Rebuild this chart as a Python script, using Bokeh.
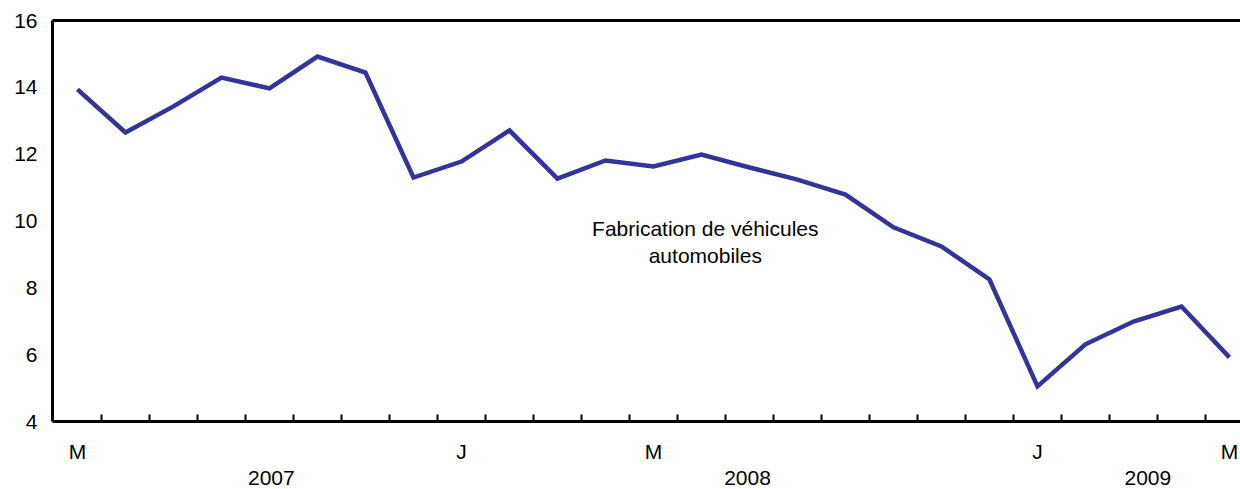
from bokeh.plotting import figure
from bokeh.models import (Range1d, FixedTicker, LinearAxis, Label, ColumnDataSource)
from bokeh.embed import file_html
from bokeh.resources import INLINE

# Data: monthly values, May 2007 .. May 2009
months = ["M", "J", "J", "A", "S", "O", "N", "D",
          "J", "F", "M", "A", "M", "J", "J", "A", "S", "O", "N", "D",
          "J", "F", "M", "A", "M"]
values = [13.94, 12.65, 13.43, 14.29, 13.97, 14.92, 14.44, 11.30,
          11.78, 12.71, 11.27, 11.81, 11.63, 11.99, 11.60, 11.24,
          10.79, 9.81, 9.24, 8.25, 5.05, 6.31, 6.99, 7.44, 5.92]
month_label_idx = [0, 8, 12, 20, 24]
years = ["2007", "2008", "2009"]
year_label_pos = [4.04, 13.96, 22.3]
series_label = ["Fabrication de véhicules", "automobiles"]
y_ticks = [4, 6, 8, 10, 12, 14, 16]

FONT = "Liberation Sans"
FS = "21px"

x = list(range(len(values)))
src = ColumnDataSource(dict(x=x, y=values))

p = figure(width=1240, height=489, output_backend="svg", toolbar_location=None,
           x_range=Range1d(-0.52, 24.23), y_range=Range1d(4, 16),
           min_border_left=52, min_border_right=0, min_border_top=20,
           min_border_bottom=68, x_axis_type=None)
p.outline_line_color = None
p.grid.visible = False
p.background_fill_color = "white"
p.border_fill_color = "white"

p.line("x", "y", source=src, line_color="#333399", line_width=4.5,
       line_join="miter")

# month axis (labels at month centres, minor ticks at month boundaries)
ax_m = LinearAxis(ticker=FixedTicker(ticks=month_label_idx,
                                     minor_ticks=[i + 0.5 for i in range(len(values) - 1)]))
ax_m.major_label_overrides = {i: months[i] for i in month_label_idx}
ax_m.major_tick_in = 0
ax_m.major_tick_out = 0
ax_m.minor_tick_in = 7
ax_m.minor_tick_out = 0
ax_m.minor_tick_line_color = "black"
ax_m.minor_tick_line_width = 2
ax_m.axis_line_color = "black"
ax_m.axis_line_width = 3
ax_m.major_label_standoff = 18
ax_m.major_label_text_font = FONT
ax_m.major_label_text_font_size = FS
ax_m.major_label_text_color = "black"
p.add_layout(ax_m, "below")

# year axis
ax_y = LinearAxis(ticker=FixedTicker(ticks=year_label_pos))
ax_y.major_label_overrides = {year_label_pos[i]: years[i] for i in range(len(years))}
ax_y.major_tick_in = 0
ax_y.major_tick_out = 0
ax_y.minor_tick_in = 0
ax_y.minor_tick_out = 0
ax_y.axis_line_color = None
ax_y.major_label_standoff = 5
ax_y.major_label_text_font = FONT
ax_y.major_label_text_font_size = FS
ax_y.major_label_text_color = "black"
p.add_layout(ax_y, "below")

# left axis
p.yaxis.ticker = FixedTicker(ticks=y_ticks)
p.yaxis.major_tick_in = 0
p.yaxis.major_tick_out = 0
p.yaxis.minor_tick_in = 0
p.yaxis.minor_tick_out = 0
p.yaxis.axis_line_color = "black"
p.yaxis.axis_line_width = 3
p.yaxis.major_label_standoff = 15
p.yaxis.major_label_text_font = FONT
p.yaxis.major_label_text_font_size = FS
p.yaxis.major_label_text_color = "black"

# top border line
ax_top = LinearAxis(ticker=FixedTicker(ticks=[]))
ax_top.major_tick_in = 0
ax_top.major_tick_out = 0
ax_top.minor_tick_in = 0
ax_top.minor_tick_out = 0
ax_top.major_label_standoff = 0
ax_top.major_label_text_font_size = "0px"
ax_top.axis_line_color = "black"
ax_top.axis_line_width = 3
p.add_layout(ax_top, "above")

for i, t in enumerate(series_label):
    p.add_layout(Label(x=13.08, y=9.78 - 0.81 * i, text=t, text_align="center",
                       text_baseline="middle", text_font=FONT,
                       text_font_size=FS, text_color="black"))

open("out.html", "w").write(file_html(p, INLINE))
